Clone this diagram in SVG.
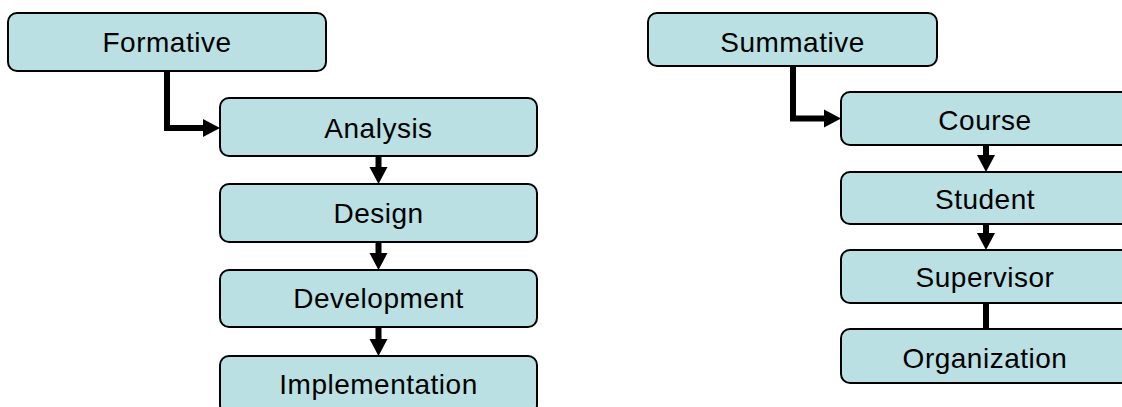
<svg xmlns="http://www.w3.org/2000/svg" width="1122" height="407" viewBox="0 0 1122 407">
<style>
.box{fill:#BAE0E3;stroke:#000;stroke-width:2}
.lbl{font-family:"Liberation Sans",Arial,sans-serif;font-size:28px;letter-spacing:0.5px;fill:#000;text-anchor:middle}
.con{fill:none;stroke:#000;stroke-width:6;stroke-linejoin:miter}
</style>
<defs>
<marker id="ah" markerUnits="userSpaceOnUse" markerWidth="20" markerHeight="20" refX="0" refY="0" orient="auto" overflow="visible">
<path d="M0,-9 L17,0 L0,9 Z" fill="#000"/>
</marker>
</defs>
<rect width="1122" height="407" fill="#fff"/>
<g id="formative"><rect class="box" x="8" y="13" width="318" height="58" rx="9"/><text class="lbl" x="167" y="52">Formative</text></g>
<g id="analysis"><rect class="box" x="220" y="98" width="317" height="58" rx="9"/><text class="lbl" x="378.5" y="137.5">Analysis</text></g>
<g id="design"><rect class="box" x="220" y="184" width="317" height="58" rx="9"/><text class="lbl" x="378.5" y="223">Design</text></g>
<g id="development"><rect class="box" x="220" y="270" width="317" height="57" rx="9"/><text class="lbl" x="378.5" y="307.5">Development</text></g>
<g id="implementation"><rect class="box" x="220" y="356" width="317" height="58" rx="9"/><text class="lbl" x="378.5" y="394">Implementation</text></g>
<g id="summative"><rect class="box" x="648" y="13" width="289" height="53" rx="9"/><text class="lbl" x="792.5" y="52">Summative</text></g>
<g id="course"><rect class="box" x="841" y="92" width="290" height="53" rx="9"/><text class="lbl" x="985" y="130">Course</text></g>
<g id="student"><rect class="box" x="841" y="172" width="290" height="52" rx="9"/><text class="lbl" x="985" y="209">Student</text></g>
<g id="supervisor"><rect class="box" x="841" y="250" width="290" height="53" rx="9"/><text class="lbl" x="985" y="287">Supervisor</text></g>
<g id="organization"><rect class="box" x="841" y="329" width="290" height="54" rx="9"/><text class="lbl" x="985" y="368">Organization</text></g>
<g id="connectors">
<path class="con" d="M167,71 V128 H203" marker-end="url(#ah)"/>
<path class="con" d="M378.5,156 V167" marker-end="url(#ah)"/>
<path class="con" d="M378.5,242 V253" marker-end="url(#ah)"/>
<path class="con" d="M378.5,327 V339" marker-end="url(#ah)"/>
<path class="con" d="M793,66 V118.5 H824" marker-end="url(#ah)"/>
<path class="con" d="M986,145 V155" marker-end="url(#ah)"/>
<path class="con" d="M986,224 V233" marker-end="url(#ah)"/>
<path class="con" d="M986,303 V329"/>
</g>
</svg>
